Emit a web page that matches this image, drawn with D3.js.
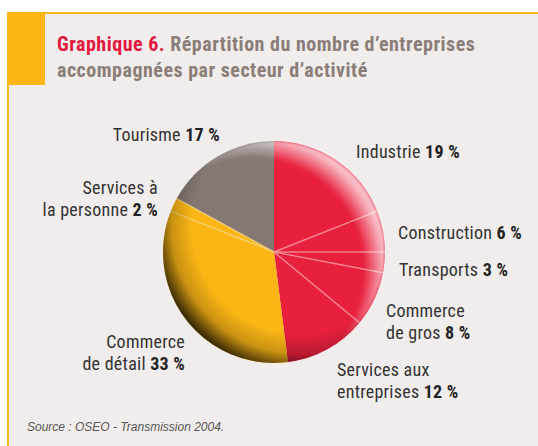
<!DOCTYPE html>
<html>
<head>
<meta charset="utf-8">
<script src="https://cdn.jsdelivr.net/npm/d3@7"></script>
<style>
  body { margin: 0; background: #fff; }
  svg text { font-family: 'Liberation Sans Narrow', 'Roboto Condensed', 'DejaVu Sans Condensed', sans-serif; }
</style>
</head>
<body>
<div id="chart"></div>
<script>
// secteurs, dans l'ordre du camembert (sens horaire depuis midi)
var sectors = ['Industrie', 'Construction', 'Transports', 'Commerce de gros',
  'Services aux entreprises', 'Commerce de détail', 'Services à la personne', 'Tourisme'];
var shares = [19, 6, 3, 8, 12, 33, 2, 17];
var groups = ['red', 'red', 'red', 'red', 'red', 'orange', 'orange', 'grey'];
// lignes des étiquettes (la dernière ligne reçoit la valeur en gras)
var labelLines = [
  ['Industrie'], ['Construction'], ['Transports'], ['Commerce', 'de gros'],
  ['Services aux', 'entreprises'], ['Commerce', 'de détail'], ['Services à', 'la personne'], ['Tourisme']
];

var width = 538, height = 446;

var svg = d3.select('#chart').append('svg')
  .attr('width', width)
  .attr('height', height);

// fond du cadre
svg.append('rect').attr('x', 7).attr('y', 12).attr('width', width - 7).attr('height', height - 12)
  .attr('fill', '#f1edec');
svg.append('rect').attr('x', 7).attr('y', 12).attr('width', width - 7).attr('height', 2).attr('fill', '#fbb616');
svg.append('rect').attr('x', 7).attr('y', 12).attr('width', 2).attr('height', height - 12).attr('fill', '#fbb616');
svg.append('rect').attr('x', 7).attr('y', 12).attr('width', 38).attr('height', 73).attr('fill', '#fbb616');

// titre
var title = svg.append('text').attr('x', 57).attr('y', 51)
  .attr('font-size', 20).attr('letter-spacing', 0.5).attr('font-weight', 'bold').attr('fill', '#8b7d78');
title.append('tspan').attr('fill', '#e4173e').text('Graphique 6.');
title.append('tspan').text(' Répartition du nombre d’entreprises');
svg.append('text').attr('x', 57).attr('y', 77)
  .attr('font-size', 20).attr('letter-spacing', 0.5).attr('font-weight', 'bold').attr('fill', '#8b7d78')
  .text('accompagnées par secteur d’activité');

var colors = d3.scaleOrdinal()
  .domain(['red', 'orange', 'grey'])
  .range(['#e8203d', '#fbb616', '#857873']);

var cx = 274, cy = 252, radius = 111;

var pie = d3.pie().sort(null).value(function(d) { return d; });
var arcs = pie(shares);
var arc = d3.arc().innerRadius(0).outerRadius(radius);

var defs = svg.append('defs');
var shade = defs.append('radialGradient').attr('id', 'shade')
  .attr('cx', '62%').attr('cy', '38%').attr('r', '66%');
shade.append('stop').attr('offset', '0.74').attr('stop-color', '#000').attr('stop-opacity', 0);
shade.append('stop').attr('offset', '0.88').attr('stop-color', '#000').attr('stop-opacity', 0.2);
shade.append('stop').attr('offset', '1').attr('stop-color', '#000').attr('stop-opacity', 0.75);
var light = defs.append('radialGradient').attr('id', 'light')
  .attr('cx', '40%').attr('cy', '58%').attr('r', '60%');
light.append('stop').attr('offset', '0.84').attr('stop-color', '#fff').attr('stop-opacity', 0);
light.append('stop').attr('offset', '1').attr('stop-color', '#fff').attr('stop-opacity', 0.7);
var blur = defs.append('filter').attr('id', 'soft');
blur.append('feGaussianBlur').attr('stdDeviation', 1.5);

var g = svg.append('g').attr('transform', 'translate(' + cx + ',' + cy + ')');

g.selectAll('path.slice')
  .data(arcs)
  .enter().append('path')
  .attr('class', 'slice')
  .attr('d', arc)
  .attr('fill', function(d, i) { return colors(groups[i]); });

// lignes de séparation claires
g.selectAll('line.sep')
  .data(arcs)
  .enter().append('line')
  .attr('class', 'sep')
  .attr('x1', 0).attr('y1', 0)
  .attr('x2', function(d) { return radius * Math.sin(d.startAngle); })
  .attr('y2', function(d) { return -radius * Math.cos(d.startAngle); })
  .attr('stroke', function(d, i) { return groups[i] === 'red' && i > 0 ? '#f7a0a8' : '#f6d680'; })
  .attr('stroke-opacity', function(d, i) { return i === 0 || i === 5 ? 0 : 0.75; })
  .attr('stroke-width', 1.4);

g.append('circle').attr('r', radius).attr('fill', 'url(#light)').attr('filter', 'url(#soft)');
g.append('circle').attr('r', radius).attr('fill', 'url(#shade)');

// étiquettes : position de la première ligne et alignement
var labelPos = [
  {x: 356, y: 158, a: 'start'},
  {x: 398, y: 239, a: 'start'},
  {x: 399, y: 276, a: 'start'},
  {x: 386, y: 317, a: 'start'},
  {x: 337, y: 376, a: 'start'},
  {x: 185, y: 348, a: 'end'},
  {x: 158, y: 194, a: 'end'},
  {x: 220, y: 141, a: 'end'}
];

labelLines.forEach(function(lines, i) {
  var p = labelPos[i];
  lines.forEach(function(line, j) {
    var t = svg.append('text')
      .attr('x', p.x).attr('y', p.y + j * 22)
      .attr('text-anchor', p.a)
      .attr('font-size', 18)
      .attr('letter-spacing', 0.25)
      .attr('fill', '#333');
    t.append('tspan').text(line);
    if (j === lines.length - 1) {
      t.append('tspan').attr('font-weight', 'bold').attr('fill', '#222').text(' ' + shares[i] + ' %');
    }
  });
});

svg.append('text').attr('x', 27).attr('y', 431)
  .attr('font-size', 12).attr('font-style', 'italic').attr('fill', '#555')
  .style('font-family', "'Liberation Sans', Arial, sans-serif")
  .text('Source : OSEO - Transmission 2004.');
</script>
</body>
</html>
